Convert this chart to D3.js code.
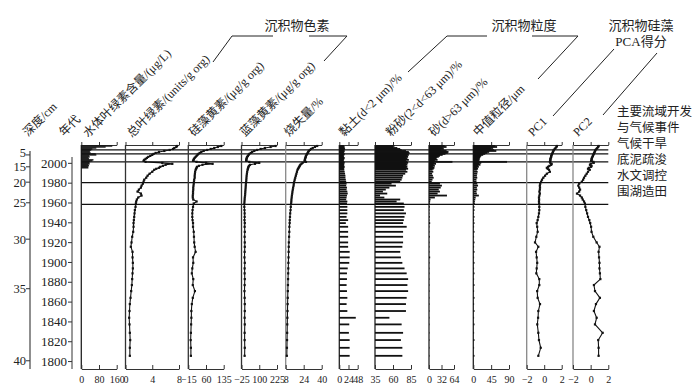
<!DOCTYPE html>
<html><head><meta charset="utf-8">
<script src="https://cdn.jsdelivr.net/npm/d3@7"></script>
<style>
body{margin:0;background:#fff;}
svg text{font-family:"Liberation Serif","Times New Roman","Noto Sans CJK SC",serif;fill:#222;}
</style></head><body>
<svg id="c" width="694" height="390"></svg>
<script>
// ---------------- DATA ----------------
const years = [2017,2016,2015,2014,2013,2012,2011,2010,2009,2008,
 2007,2006,2005,2004,2003,2002,2001,2000,1999,1998,
 1997,1996,1995,1994,1993,1991,1989,1987,1985,1983,
 1981,1979,1977,1975,1973,1971,1969,1967,1965,1963,
 1961,1959,1955.6,1952.3,1949,1945.5,1942.2,1939.2,1935.5,1930.4,
 1925.4,1919.7,1915.3,1910.2,1904.6,1899.1,1893.5,1888.5,1882.7,1876.7,
 1870.6,1863.8,1857.5,1850.5,1843.7,1837,1828.5,1821.2,1813.4,1805.3];

const chlYears = [2017,2016,2015,2014,2013,2012,2011,2010,2009,2008,2007,2006,2005,2004,2003,2002,2001,2000,1999,1998,1997,1996,1995];
const chlWater = [140,110,68,50,45,40,38,42,65,68,35,38,32,35,55,50,40,35,38,32,35,30,32];

const totalChl = [7.7,7.6,7.3,7.1,6.6,5.8,5.0,4.5,4.2,4.0,
 3.7,3.4,3.2,3.0,2.8,2.7,3.0,5.5,7.0,6.0,
 5.6,5.2,5.0,4.6,4.3,4.0,3.6,3.3,3.1,2.8,
 2.7,2.6,2.4,2.3,2.0,1.8,2.3,2.4,1.9,1.7,
 1.6,1.55,1.5,1.4,1.35,1.3,1.25,1.2,1.2,1.15,
 1.0,0.9,0.8,1.05,1.05,1.1,1.1,1.05,1.0,0.95,
 0.85,0.75,0.65,0.6,0.55,0.6,0.65,0.7,0.65,0.65];

const diatox = [125,110,95,80,65,50,40,33,28,24,
 20,16,12,9,7,5,20,60,88,45,
 30,22,20,18,16,14,13,12,12,10,
 9,8,7,6,6,5,5,4,4,6,
 20,8,5,3,2,2,3,5,5,8,
 9,10,12,16,5,6,2,0,6,4,
 13,4,0,-2,-2,-3,-4,-5,-4,-4];

const zeax = [215,180,140,110,85,65,50,40,30,25,
 20,15,12,10,9,8,30,100,70,35,
 28,24,22,20,18,15,13,11,10,9,
 8,6,5,4,3,2,1,0,-2,-3,
 -4,-5,-5,-4,-3,-3,-4,-2,-3,-2,
 -3,-2,-2,-3,-4,-2,-3,-3,-2,-3,
 -4,-3,-2,-2,-3,-2,-3,-3,-2,-3];

const loi = [36,34,32,30.5,29.5,28.5,28,27.5,27,26.5,
 26,25.8,25.5,25.2,25,24.8,26,23,22,21,
 20.5,20,19.5,19,18.5,18,17.5,17,16.5,16,
 15.6,15.2,15,14.6,14.3,14,13.8,13.5,13.3,13.1,
 13,12.8,12.5,12.3,12,11.8,11.6,11.5,11.3,11.2,
 11,10.8,10.7,10.6,10.5,10.4,10.3,10.2,10.1,10,
 9.9,9.8,9.7,9.6,9.5,9.4,9.3,9.2,9.1,9];

const clay = [12,14,13,15,12,14,13,12,14,13,
 11,12,14,13,12,11,13,14,12,13,
 12,14,13,12,13,14,15,16,16,17,
 18,19,18,20,19,21,22,20,19,18,
 21,20,21,21,21,19,23,17,23,23,
 23,23,23,27,27,26,22,20,20,19,
 20,21,19,21,43,26,25,27,27,27];

const silt = [62,60,66,70,72,78,82,83,80,82,
 80,81,79,80,82,78,80,81,79,80,
 78,80,79,81,78,80,77,74,73,72,
 70,58,64,55,50,46,52,42,48,70,
 65,75,76,75,78,76,75,74,79,74,
 74,74,73,70,71,73,76,79,81,80,
 81,79,78,78,55,72,74,71,73,73];

const sand = [40,45,35,38,30,45,50,48,42,35,
 28,25,20,18,22,15,60,14,18,12,
 15,10,14,12,9,11,8,10,12,9,
 7,28,33,30,25,28,22,46,15,4,
 3,2,2,1,1,2,1,3,1,1,
 2,1,1,1,3,1,1,1,1,1,
 1,1,1,1,1,1,1,1,1,1];

const median = [55,60,50,45,52,58,40,35,30,25,
 20,18,17,15,16,14,85,20,15,18,
 12,14,10,12,9,11,10,9,10,8,
 8,10,12,9,10,8,9,14,6,5,
 4,4,3,3,2,3,2,3,2,3,
 2,3,2,3,2,3,2,3,2,3,
 2,3,2,3,2,3,2,3,2,3];

const pc1 = [1.45,1.4,1.3,1.2,1.1,1.05,1.0,0.95,0.9,0.85,
 0.8,0.8,0.75,0.7,0.72,0.68,0.65,0.7,0.85,0.8,
 0.6,0.45,0.3,0.4,0.55,0.65,0.3,0.1,-0.1,-0.25,
 -0.35,-0.45,-0.5,-0.48,-0.5,-0.55,-0.5,-0.55,-0.6,-0.58,
 -0.6,-0.58,-0.56,-0.56,-0.6,-0.67,-0.75,-0.86,-0.8,-0.75,
 -0.9,-1.05,-0.67,-0.93,-0.86,-0.8,-0.86,-0.9,-0.56,-0.56,
 -0.8,-0.75,-0.48,-0.67,-0.7,-0.79,-0.67,-0.6,-0.4,-0.67];

const pc2 = [0.9,0.85,0.75,0.65,0.55,0.5,0.45,0.4,0.35,0.3,
 0.25,0.2,0.15,0.1,0.12,0.05,0.3,0.35,0.0,-0.08,
 0.1,0.05,-0.2,-0.3,-0.1,-0.3,-0.45,-0.6,-0.75,-0.85,
 -1.0,-1.3,-1.4,-1.3,-1.2,-1.3,-1.55,-1.2,-1.0,-0.9,
 -0.75,-0.65,-0.6,-0.5,-0.4,-0.3,-0.15,-0.05,0.05,0.1,
 0.3,0.68,1.0,0.9,0.95,1.0,1.0,1.05,1.1,0.37,
 0.49,1.05,0.6,0.37,0.68,0.49,1.36,0.86,0.9,0.9];

const ageTicks = [2000,1980,1960,1940,1920,1900,1880,1860,1840,1820,1800];
const depthTicks = [5,15,20,25,30,35,40];
const depthTickAges = [2008,1996,1980.5,1959.7,1923,1873,1800.3];

const eventYears = [2013,2009,2001,1980,1958];
const eventLabels = ["主要流域开发","与气候事件","气候干旱","底泥疏浚","水文调控","围湖造田"];

const headerLabels = ["深度/cm","年代","水体叶绿素含量/(μg/L)","总叶绿素/(units/g org)","硅藻黄素/(μg/g org)","蓝藻黄素/(μg/g org)","烧失量/%","黏土(d<2 μm)/%","粉砂(2<d<63 μm)/%","砂(d>63 μm)/%","中值粒径/μm","PC1","PC2"];
const groupLabels = ["沉积物色素","沉积物粒度","沉积物硅藻","PCA得分"];

const panelDomains = [[0,160],[0,8],[-15,135],[-25,225],[8,40],[0,48],[35,85],[0,64],[0,90],[-2,2],[-2,2]];
const panelTicks = [[0,80,160],[0,4,8],[-15,60,135],[-25,100,225],[8,24,40],[0,24,48],[35,60,85],[0,32,64],[0,45,90],[-2,0,2],[-2,0,2]];

// ---------------- LAYOUT ----------------
const svg = d3.select("#c");
const topY = 145, bottomY = 369;
const y = d3.scaleLinear().domain([2018,1792]).range([topY,bottomY]);

const panelX = [[81.3,116.7],[125.5,179],[188.3,223.7],[241.5,277],[285.7,321.7],[339.3,357.7],[375,411],[429,454],[473.3,509],[526.7,561.7],[573,608.3]];
const panelType = ["bar","line","line","line","line","bar","bar","bar","bar","line","line"];
const panelAxisColor = ["#222","#333","#333","#333","#888","#222","#222","#222","#222","#888","#888"];
const panelSeries = [
  {ys: chlYears, vs: chlWater},
  {ys: years, vs: totalChl},
  {ys: years, vs: diatox},
  {ys: years, vs: zeax},
  {ys: years, vs: loi},
  {ys: years, vs: clay},
  {ys: years, vs: silt},
  {ys: years, vs: sand},
  {ys: years, vs: median},
  {ys: years, vs: pc1},
  {ys: years, vs: pc2}
];
const fmt = v => (v < 0 ? "\u2212" + Math.abs(v) : String(v));
const serif = '"Liberation Serif","Times New Roman",serif';

// Depth axis
const depthX = 30;
svg.append("line").attr("x1",depthX).attr("x2",depthX).attr("y1",151).attr("y2",bottomY)
  .attr("stroke","#333").attr("stroke-width",1.1);
depthTicks.forEach((d,i)=>{
  const yy = y(depthTickAges[i]);
  svg.append("line").attr("x1",depthX-4).attr("x2",depthX).attr("y1",yy).attr("y2",yy).attr("stroke","#333");
  svg.append("text").attr("x",depthX-4).attr("y",yy - (i === 0 ? 2 : 0)).attr("dy","0.35em").attr("text-anchor","end")
    .attr("font-size",12.5).text(d);
});

// Age axis
const ageAxisX = 72;
const ageAxis = d3.axisLeft(y).tickValues(ageTicks).tickSize(4).tickFormat(d3.format("d"));
const ag = svg.append("g").attr("transform",`translate(${ageAxisX},0)`).call(ageAxis);
ag.select(".domain").attr("d",`M0,157V${bottomY}`).attr("stroke","#333");
ag.selectAll(".tick line").attr("stroke","#333");
ag.selectAll(".tick text").attr("font-size",13).attr("fill","#222")
  .style("font-family",serif).attr("x",-5);

// Event lines
eventYears.forEach(ev=>{
  svg.append("line").attr("x1",panelX[0][0]).attr("x2",panelX[10][1]).attr("y1",y(ev)).attr("y2",y(ev))
    .attr("stroke","#111").attr("stroke-width",1.2);
});

// Panels
panelX.forEach((px,i)=>{
  const x = d3.scaleLinear().domain(panelDomains[i]).range(px);
  const g = svg.append("g");
  g.append("line").attr("x1",px[0]).attr("x2",px[0]).attr("y1",topY).attr("y2",bottomY)
    .attr("stroke",panelAxisColor[i]).attr("stroke-width",1.3);
  const ta = d3.axisTop(x).tickValues(panelTicks[i]).tickSize(3).tickSizeOuter(0).tickFormat("");
  const tg = g.append("g").attr("transform",`translate(0,${topY})`).call(ta);
  tg.selectAll("path,line").attr("stroke","#333");
  const ba = d3.axisTop(x).tickValues(panelTicks[i]).tickSize(4).tickSizeOuter(0).tickFormat(fmt);
  const bg = g.append("g").attr("transform",`translate(0,${bottomY})`).call(ba);
  bg.selectAll("path,line").attr("stroke","#333");
  bg.selectAll("text").attr("y",14).attr("font-size",10).attr("fill","#222").style("font-family",serif);

  const s = panelSeries[i];
  const pts = s.ys.map((yr,k)=>({yr, v:s.vs[k]}));
  if (panelType[i] === "bar") {
    const h = i === 0 ? 1.4 : 1.8;
    g.selectAll("rect.bar").data(pts).enter().append("rect")
      .attr("x", px[0]).attr("y", d=>y(d.yr)-h/2)
      .attr("width", d=>Math.max(0, x(d.v)-px[0])).attr("height", h)
      .attr("fill","#111");
  } else {
    const line = d3.line().x(d=>x(d.v)).y(d=>y(d.yr));
    g.append("path").datum(pts).attr("d",line).attr("fill","none").attr("stroke","#111").attr("stroke-width",1.1);
    g.selectAll("rect.m").data(pts).enter().append("rect")
      .attr("x",d=>x(d.v)-1.1).attr("y",d=>y(d.yr)-1.1).attr("width",2.2).attr("height",2.2).attr("fill","#111");
  }
});

// Header labels (rotated)
const headerPos = [[28,137],[64,137],[88,138],[132,138],[194,137],[245,137],[289,137],[344,137],[391,137],[434,137],[478,137],[533,137],[578,137]];
headerLabels.forEach((t,i)=>{
  svg.append("text").attr("transform",`translate(${headerPos[i][0]},${headerPos[i][1]}) rotate(-45)`)
    .attr("font-size",12).text(t);
});

// Group labels and connector lines
svg.append("text").attr("x",297).attr("y",30).attr("text-anchor","middle").attr("font-size",13).text(groupLabels[0]);
svg.append("text").attr("x",524).attr("y",30).attr("text-anchor","middle").attr("font-size",13).text(groupLabels[1]);
svg.append("text").attr("x",641).attr("y",30).attr("text-anchor","middle").attr("font-size",13).text(groupLabels[2]);
svg.append("text").attr("x",641).attr("y",46).attr("text-anchor","middle").attr("font-size",13).text(groupLabels[3]);
const connectors = [
  [[213,62],[232,36],[273,36]],
  [[309,36],[347,36],[324,61]],
  [[408,72],[447,36],[487,36]],
  [[532,36],[578,36],[538,79]],
  [[614,49],[553,116]],
  [[657,53],[603,115]]
];
connectors.forEach(c=>{
  svg.append("path").attr("d",d3.line()(c)).attr("fill","none").attr("stroke","#222").attr("stroke-width",1);
});

// Event labels
const eventLabelY = [116,132,148,164,180,196];
eventLabels.forEach((t,i)=>{
  svg.append("text").attr("x",617).attr("y",eventLabelY[i]).attr("font-size",12.5).text(t);
});
</script>
</body></html>
